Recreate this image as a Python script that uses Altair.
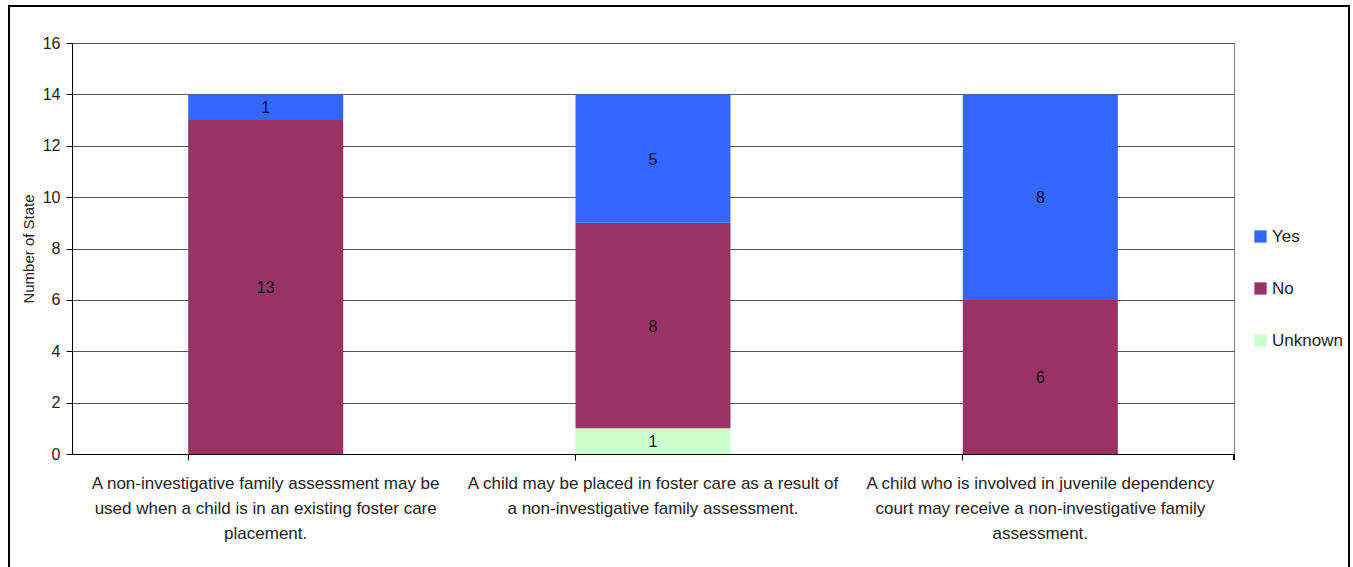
import altair as alt
import pandas as pd

# Survey questions (x categories), one line per list entry when drawn
questions = [
    "A non-investigative family assessment may be\nused when a child is in an existing foster care\nplacement.",
    "A child may be placed in foster care as a result of\na non-investigative family assessment.",
    "A child who is involved in juvenile dependency\ncourt may receive a non-investigative family\nassessment.",
]
responses = ["Yes", "No", "Unknown"]
colors = ["#3366FF", "#993366", "#CCFFCC"]

yes_counts = [1, 5, 8]
no_counts = [13, 8, 6]
unknown_counts = [0, 1, 0]

rows = []
for i, q in enumerate(questions):
    base = 0
    # stack from the bottom: Unknown, No, Yes
    for rank, (resp, vals) in enumerate(
        [("Unknown", unknown_counts), ("No", no_counts), ("Yes", yes_counts)]
    ):
        v = vals[i]
        rows.append(
            {"question": q, "response": resp, "count": v, "rank": rank,
             "mid": base + v / 2}
        )
        base += v
df = pd.DataFrame(rows)

W, H = 1162, 411

x_enc = alt.X(
    "question:N",
    sort=questions,
    scale=alt.Scale(paddingInner=0.6, paddingOuter=0.3),
    axis=alt.Axis(
        title=None,
        labelAngle=0,
        labelExpr="split(datum.label, '\\n')",
        labelFontSize=17,
        labelFont="Liberation Sans",
        labelColor="#222222",
        labelLineHeight=25,
        labelLimit=0,
        labelPadding=15,
        bandPosition=0,
        ticks=True,
        tickSize=6,
        tickColor="#000000",
        domainColor="#000000",
        grid=False,
    ),
)

bars = alt.Chart(df).mark_bar(size=155).encode(
    x=x_enc,
    y=alt.Y(
        "count:Q",
        stack="zero",
        scale=alt.Scale(domain=[0, 16]),
        axis=alt.Axis(
            values=list(range(0, 17, 2)),
            title="Number of State",
            titleFont="Liberation Sans",
            titleFontSize=15,
            titleFontWeight="normal",
            titleColor="#222222",
            titleX=-44,
            titleY=H / 2,
            titleAngle=270,
            titleAlign="center",
            titleBaseline="middle",
            labelFont="Liberation Sans",
            labelFontSize=16,
            labelColor="#222222",
            labelPadding=6,
            tickSize=6,
            tickColor="#000000",
            domainColor="#000000",
            gridColor="#555555",
        ),
    ),
    color=alt.Color(
        "response:N",
        scale=alt.Scale(domain=responses, range=colors),
        legend=alt.Legend(
            title=None,
            orient="none",
            legendX=1180,
            legendY=185,
            symbolType="square",
            symbolSize=150,
            symbolStrokeWidth=0,
            labelFont="Liberation Sans",
            labelFontSize=17,
            labelColor="#222222",
            rowPadding=34,
            labelOffset=3,
        ),
    ),
    order=alt.Order("rank:Q"),
)

labels = alt.Chart(df).transform_filter("datum.count > 0").mark_text(
    font="Liberation Sans", fontSize=16, color="#111111", baseline="middle", dy=1
).encode(
    x=alt.X("question:N", sort=questions),
    y=alt.Y("mid:Q"),
    text=alt.Text("count:Q"),
)

# closing tick at the right end of the category axis
end_tick = alt.Chart(df).mark_rule(color="#000000").encode(
    x=alt.value(W), y=alt.value(H), y2=alt.value(H + 6)
)

# outer frame around the whole figure
frame = alt.Chart(df).mark_rect(
    fill=None, stroke="#000000", strokeWidth=1.5
).encode(
    x=alt.value(9 - 72), x2=alt.value(1349 - 72),
    y=alt.value(6 - 43), y2=alt.value(600 - 43),
)

chart = (
    alt.layer(bars, labels, end_tick, frame)
    .resolve_scale(x="shared", y="shared")
    .properties(
        width=W,
        height=H,
        autosize=alt.AutoSizeParams(type="none"),
        padding={"left": 72, "top": 43, "right": 119, "bottom": 113},
        background="#ffffff",
    )
    .configure_view(stroke="#808080", strokeWidth=1)
)

chart.save("out.html", embed_options={"renderer": "svg", "actions": False})
